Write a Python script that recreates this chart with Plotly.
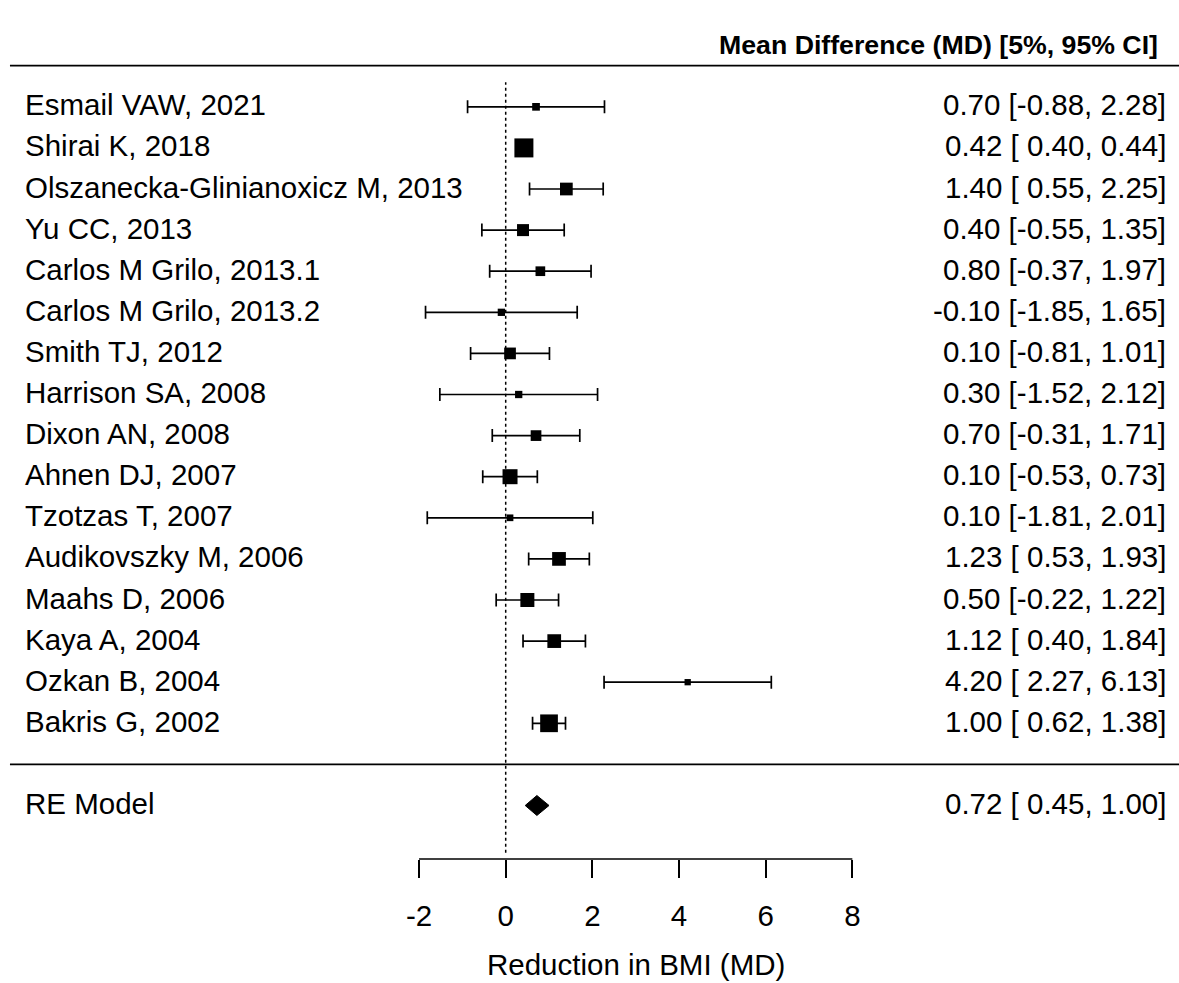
import plotly.graph_objects as go

studies = ["Esmail VAW, 2021", "Shirai K, 2018", "Olszanecka-Glinianoxicz M, 2013",
           "Yu CC, 2013", "Carlos M Grilo, 2013.1", "Carlos M Grilo, 2013.2",
           "Smith TJ, 2012", "Harrison SA, 2008", "Dixon AN, 2008", "Ahnen DJ, 2007",
           "Tzotzas T, 2007", "Audikovszky M, 2006", "Maahs D, 2006", "Kaya A, 2004",
           "Ozkan B, 2004", "Bakris G, 2002"]
md = [0.70, 0.42, 1.40, 0.40, 0.80, -0.10, 0.10, 0.30, 0.70, 0.10, 0.10, 1.23, 0.50, 1.12, 4.20, 1.00]
lo = [-0.88, 0.40, 0.55, -0.55, -0.37, -1.85, -0.81, -1.52, -0.31, -0.53, -1.81, 0.53, -0.22, 0.40, 2.27, 0.62]
hi = [2.28, 0.44, 2.25, 1.35, 1.97, 1.65, 1.01, 2.12, 1.71, 0.73, 2.01, 1.93, 1.22, 1.84, 6.13, 1.38]
weight_pct = [4.20, 10.17, 6.85, 6.47, 5.26, 3.99, 6.32, 3.99, 5.79, 8.06, 3.67, 7.38, 7.53, 7.38, 3.46, 9.49]

re_label = "RE Model"
re_md, re_lo, re_hi = 0.72, 0.45, 1.00

header = "Mean Difference (MD) [5%, 95% CI]"
x_title = "Reduction in BMI (MD)"
tick_vals = [-2, 0, 2, 4, 6, 8]

FONT = "Liberation Sans, Arial, Helvetica, sans-serif"
FS = 29.5
k = len(studies)
rows = [k - i for i in range(k)]  # k..1
re_row = -1

wmin, wmax = min(weight_pct), max(weight_pct)
sizes = [6.3 + 12.7 * (w - wmin) / (wmax - wmin) for w in weight_pct]

fig = go.Figure()

# CIs with caps
fig.add_trace(go.Scatter(
    x=md, y=rows, mode="markers",
    marker=dict(symbol="square", size=sizes, color="black", opacity=1, line=dict(width=0)),
    error_x=dict(type="data", symmetric=False,
                 array=[h - m for h, m in zip(hi, md)],
                 arrayminus=[m - l for m, l in zip(md, lo)],
                 color="black", thickness=1.7, width=6.5),
    hoverinfo="skip", showlegend=False))

# diamond for RE model
h = 0.243
fig.add_trace(go.Scatter(
    x=[re_lo, re_md, re_hi, re_md, re_lo],
    y=[re_row, re_row + h, re_row, re_row - h, re_row],
    mode="lines", fill="toself", fillcolor="black",
    line=dict(color="black", width=1), hoverinfo="skip", showlegend=False))

X_MIN, X_MAX = -11.671, 15.539
Y_MIN, Y_MAX = -2.302, 18.599
LEFT_X = -11.15
RIGHT_X = 15.29

def txt(x, y, s, anchor, size=FS, yshift=2):
    return dict(x=x, y=y, text=s, xanchor=anchor, yanchor="middle", showarrow=False,
                yshift=yshift, font=dict(size=size, color="black", family=FONT))

def fmt(m, l, u):
    return f"{m:.2f} [{l:5.2f}, {u:.2f}]"

annotations = []
for s, r, m, l, u in zip(studies, rows, md, lo, hi):
    annotations.append(txt(LEFT_X, r, s, "left"))
    annotations.append(txt(RIGHT_X, r, fmt(m, l, u), "right"))
annotations.append(txt(LEFT_X, re_row, re_label, "left"))
annotations.append(txt(RIGHT_X, re_row, fmt(re_md, re_lo, re_hi), "right"))
annotations.append(txt(15.1, 17.5, f"<b>{header}</b>", "right", size=26.7, yshift=0))
# axis title centred under the drawn axis segment
annotations.append(dict(x=(tick_vals[0] + tick_vals[-1]) / 2, xref="x", y=0, yref="paper",
                        yshift=-105, text=x_title, xanchor="center", yanchor="middle",
                        showarrow=False, font=dict(size=FS, color="black", family=FONT)))

shapes = [
    dict(type="line", xref="x", yref="y", x0=X_MIN + 0.23, x1=X_MAX, y0=17, y1=17,
         line=dict(color="black", width=1.8)),
    dict(type="line", xref="x", yref="y", x0=X_MIN + 0.23, x1=X_MAX, y0=0, y1=0,
         line=dict(color="black", width=1.8)),
    dict(type="line", xref="x", yref="y", x0=0, x1=0, y0=-2.15, y1=16.6,
         line=dict(color="black", width=1.5, dash="dot")),
    dict(type="line", xref="x", yref="paper", x0=tick_vals[0], x1=tick_vals[-1], y0=0, y1=0,
         line=dict(color="black", width=1.7)),
]

fig.update_layout(
    width=1179, height=983,
    margin=dict(l=0, r=0, t=0, b=124),
    plot_bgcolor="white", paper_bgcolor="white",
    annotations=annotations, shapes=shapes,
    xaxis=dict(range=[X_MIN, X_MAX], showgrid=False, zeroline=False, showline=False,
               tickvals=tick_vals, ticktext=[str(t) for t in tick_vals],
               ticks="outside", ticklen=18, tickwidth=1.7, tickcolor="black",
               ticklabelstandoff=13,
               tickfont=dict(size=FS, color="black", family=FONT)),
    yaxis=dict(range=[Y_MIN, Y_MAX], showgrid=False, zeroline=False, showline=False,
               showticklabels=False, ticks=""),
)

fig.write_html("out.html", config={"displayModeBar": False},
               post_script="document.body.style.margin='0';document.body.style.overflow='hidden';")
